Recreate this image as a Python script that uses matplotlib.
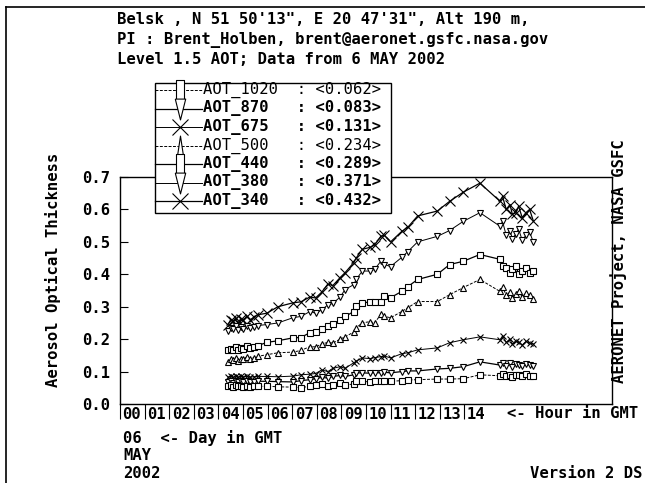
import matplotlib
matplotlib.use("Agg")
import matplotlib.pyplot as plt
from matplotlib.lines import Line2D
from matplotlib.patches import Rectangle

# Measurement times (hours GMT, 6 May 2002)
hours = [4.39, 4.5, 4.6, 4.7, 4.8, 4.9, 5.0, 5.15, 5.3, 5.45, 5.6,
         5.97, 6.42, 7.03, 7.35, 7.72, 7.95, 8.2, 8.45, 8.65,
         8.95, 9.15, 9.5, 9.6, 9.85, 10.16, 10.35, 10.6, 10.75, 11.0,
         11.45, 11.7, 12.1, 12.9, 13.4, 13.95, 14.63,
         15.45, 15.55, 15.7, 15.85, 15.95, 16.1, 16.2, 16.35, 16.5, 16.65, 16.8]

aot_340 = [0.245, 0.26, 0.255, 0.265, 0.25, 0.262, 0.258, 0.27, 0.26, 0.268, 0.275,
           0.28, 0.30, 0.312, 0.315, 0.33, 0.327, 0.345, 0.37, 0.365,
           0.39, 0.405, 0.436, 0.45, 0.477, 0.483, 0.49, 0.517, 0.52, 0.50,
           0.532, 0.545, 0.58, 0.595, 0.625, 0.653, 0.681,
           0.625, 0.64, 0.60, 0.615, 0.585, 0.59, 0.61, 0.575, 0.59, 0.60, 0.565]
aot_380 = [0.225, 0.235, 0.23, 0.24, 0.228, 0.236, 0.232, 0.24, 0.235, 0.238, 0.242,
           0.245, 0.25, 0.266, 0.27, 0.285, 0.28, 0.29, 0.306, 0.31,
           0.33, 0.353, 0.368, 0.384, 0.41, 0.41, 0.415, 0.44, 0.43, 0.424,
           0.452, 0.47, 0.50, 0.517, 0.535, 0.563, 0.59,
           0.548, 0.563, 0.52, 0.535, 0.51, 0.525, 0.54, 0.505, 0.52, 0.53, 0.50]
aot_440 = [0.165, 0.17, 0.168, 0.175, 0.165, 0.172, 0.17, 0.178, 0.172, 0.176, 0.18,
           0.19, 0.195, 0.204, 0.205, 0.22, 0.222, 0.232, 0.24, 0.247,
           0.258, 0.27, 0.285, 0.303, 0.31, 0.316, 0.315, 0.316, 0.334, 0.328,
           0.347, 0.362, 0.384, 0.40, 0.43, 0.44, 0.461,
           0.446, 0.425, 0.42, 0.405, 0.415, 0.425, 0.40, 0.41, 0.42, 0.405, 0.41]
aot_500 = [0.13, 0.138, 0.135, 0.142, 0.132, 0.14, 0.138, 0.145, 0.14, 0.143, 0.147,
           0.152, 0.158, 0.16, 0.165, 0.177, 0.176, 0.185, 0.19, 0.188,
           0.2, 0.207, 0.222, 0.235, 0.25, 0.254, 0.25, 0.276, 0.27, 0.266,
           0.285, 0.297, 0.316, 0.316, 0.337, 0.359, 0.384,
           0.347, 0.362, 0.335, 0.345, 0.328, 0.34, 0.35, 0.33, 0.342, 0.335, 0.325]
aot_675 = [0.083, 0.085, 0.082, 0.086, 0.083, 0.085, 0.084, 0.085, 0.083, 0.084, 0.085,
           0.085, 0.084, 0.086, 0.09, 0.092, 0.094, 0.105, 0.10, 0.11,
           0.115, 0.11, 0.127, 0.132, 0.142, 0.14, 0.143, 0.146, 0.148, 0.142,
           0.155, 0.158, 0.167, 0.173, 0.189, 0.198, 0.207,
           0.198, 0.21, 0.19, 0.20, 0.185, 0.195, 0.19, 0.182, 0.193, 0.188, 0.185]
aot_870 = [0.068, 0.072, 0.066, 0.07, 0.068, 0.071, 0.069, 0.07, 0.067, 0.069, 0.07,
           0.07, 0.069, 0.068, 0.072, 0.075, 0.078, 0.082, 0.08, 0.085,
           0.088, 0.085, 0.09, 0.096, 0.096, 0.095, 0.097, 0.096, 0.098, 0.096,
           0.10, 0.102, 0.102, 0.108, 0.11, 0.115, 0.13,
           0.12, 0.127, 0.118, 0.125, 0.115, 0.122, 0.12, 0.116, 0.124, 0.12, 0.118]
aot_1020 = [0.055, 0.06, 0.052, 0.058, 0.054, 0.057, 0.053, 0.056, 0.052, 0.055, 0.054,
            0.055, 0.053, 0.052, 0.05, 0.055, 0.058, 0.062, 0.056, 0.06,
            0.065, 0.058, 0.062, 0.07, 0.07, 0.068, 0.07, 0.07, 0.072, 0.07,
            0.072, 0.074, 0.075, 0.077, 0.077, 0.078, 0.09,
            0.087, 0.092, 0.085, 0.09, 0.083, 0.088, 0.09, 0.085, 0.092, 0.087, 0.086]

channels = ["AOT_1020", "AOT_870", "AOT_675", "AOT_500", "AOT_440", "AOT_380", "AOT_340"]
daily_means = [0.062, 0.083, 0.131, 0.234, 0.289, 0.371, 0.432]
hour_labels = ["00", "01", "02", "03", "04", "05", "06", "07", "08", "09",
               "10", "11", "12", "13", "14"]
y_ticks = [0.0, 0.1, 0.2, 0.3, 0.4, 0.5, 0.6, 0.7]

W, H = 645, 483
MONO = "DejaVu Sans Mono"
FS = 11.2

fig = plt.figure(figsize=(W / 100, H / 100), dpi=100)
fig.patch.set_facecolor("white")


def fx(px):
    return px / W


def fy(py):
    return 1 - py / H


def ftext(px, py, s, **kw):
    kw.setdefault("fontfamily", MONO)
    kw.setdefault("fontweight", "bold")
    kw.setdefault("fontsize", FS)
    kw.setdefault("va", "center")
    fig.text(fx(px), fy(py), s, **kw)


# page border
fig.add_artist(Line2D([fx(6), fx(645)], [fy(7), fy(7)], color="black", lw=1.2,
                      transform=fig.transFigure))
fig.add_artist(Line2D([fx(6), fx(6)], [fy(7), fy(483)], color="black", lw=1.2,
                      transform=fig.transFigure))

ax = fig.add_axes([fx(120), fy(404), (612 - 120) / W, (404 - 177) / H])
ax.set_xlim(0, 20)
ax.set_ylim(0, 0.7)
for sp in ax.spines.values():
    sp.set_linewidth(1.0)

styles = {
    "AOT_340": dict(marker="x", ms=6.5, lw=0.9, ls="-"),
    "AOT_380": dict(marker="v", ms=4.2, lw=0.7, ls="-"),
    "AOT_440": dict(marker="s", ms=4.6, lw=0.9, ls="-"),
    "AOT_500": dict(marker="^", ms=4.2, lw=0.7, ls=(0, (3, 1.5))),
    "AOT_675": dict(marker="x", ms=5, lw=0.7, ls="-"),
    "AOT_870": dict(marker="v", ms=4.2, lw=0.9, ls="-"),
    "AOT_1020": dict(marker="s", ms=4.2, lw=0.7, ls=(0, (3, 1.5))),
}
series = {"AOT_340": aot_340, "AOT_380": aot_380, "AOT_440": aot_440,
          "AOT_500": aot_500, "AOT_675": aot_675, "AOT_870": aot_870,
          "AOT_1020": aot_1020}
for name, vals in series.items():
    st = styles[name]
    ax.plot(hours, vals, color="black", linestyle=st["ls"], lw=st["lw"],
            marker=st["marker"], ms=st["ms"], mfc="white", mec="black", mew=0.8)

ax.set_yticks(y_ticks)
ax.set_yticklabels([f"{v:.1f}" for v in y_ticks], fontfamily=MONO,
                   fontweight="bold", fontsize=FS)
ax.tick_params(axis="y", direction="in", length=6, width=0.8, pad=7)
ax.set_xticks(range(len(hour_labels)))
ax.tick_params(axis="x", direction="out", length=11, width=0.8, labelbottom=False)
xt = ax.get_xaxis_transform()
for h, lab in enumerate(hour_labels):
    ax.text(h + 0.1, -0.047, lab, transform=xt, ha="left", va="center",
            fontfamily=MONO, fontweight="bold", fontsize=FS)

# header
ftext(117, 20, "Belsk , N 51 50'13\", E 20 47'31\", Alt 190 m,")
ftext(117, 40, "PI : Brent_Holben, brent@aeronet.gsfc.nasa.gov")
ftext(117, 60, "Level 1.5 AOT; Data from 6 MAY 2002")

# axis titles
ftext(53, 270, "Aerosol Optical Thickness", rotation=90, ha="center")
ftext(619, 261, "AERONET Project, NASA GSFC", rotation=90, ha="center")

# bottom annotations
ftext(507, 414, "<- Hour in GMT")
ftext(123, 438, "06  <- Day in GMT")
ftext(123, 456, "MAY")
ftext(123, 473, "2002")
ftext(643, 473, "Version 2 DS", ha="right")

# legend box
fig.add_artist(Rectangle((fx(155), fy(213)), (391 - 155) / W, (213 - 83) / H,
                         fill=True, facecolor="white", edgecolor="black", lw=1.0,
                         transform=fig.transFigure, zorder=5))
tall = {
    "s": [(-0.35, -1), (0.35, -1), (0.35, 1), (-0.35, 1), (-0.35, -1)],
    "v": [(-0.5, 1), (0.5, 1), (0, -1), (-0.5, 1)],
    "^": [(-0.3, -1), (0.3, -1), (0, 1), (-0.3, -1)],
}
row_y = [90, 108.5, 127, 145.5, 164, 182.5, 201]
for name, mean, ry in zip(channels, daily_means, row_y):
    st = styles[name]
    mk = st["marker"]
    marker = tall.get(mk, "x")
    msz = 15 if mk != "x" else 11
    fig.add_artist(Line2D([fx(155), fx(202)], [fy(ry), fy(ry)], color="black",
                          lw=st["lw"], ls=st["ls"], transform=fig.transFigure, zorder=6))
    fig.add_artist(Line2D([fx(180)], [fy(ry)], color="black", lw=0, marker=marker,
                          ms=msz, mfc="white", mec="black", mew=0.8,
                          transform=fig.transFigure, zorder=7))
    weight = "normal" if name in ("AOT_1020", "AOT_500") else "bold"
    fig.text(fx(203), fy(ry), f"{name:<10s}: <{mean:.3f}>", fontfamily=MONO,
             fontweight=weight, fontsize=FS, va="center", zorder=7)

fig.savefig("out.png", dpi=100)
